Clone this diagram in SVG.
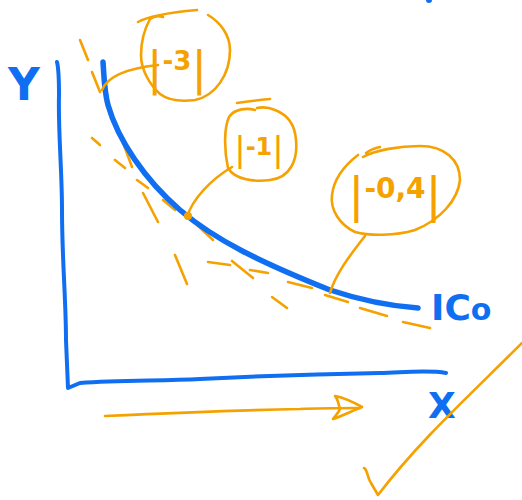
<svg xmlns="http://www.w3.org/2000/svg" width="522" height="500" viewBox="0 0 522 500">
<style>
.b{fill:none;stroke:#0f6ff0;stroke-linecap:round;stroke-linejoin:round}
.o{fill:none;stroke:#f5a100;stroke-width:2.6;stroke-linecap:round;stroke-linejoin:round}
.bt{fill:#0f6ff0;font-family:"DejaVu Sans",sans-serif;font-weight:bold}
.ot{fill:#f5a100;font-family:"DejaVu Sans",sans-serif}
</style>
<rect width="522" height="500" fill="#fff"/>
<g id="axes">
<path class="b" stroke-width="4" d="M57,62 C59,70 59,80 59,95 C58,130 62,170 62,210 C62,260 66,300 66,340 L68,388 L80,383 C120,380 160,381 200,379 C260,376 320,374 380,373 C410,372 430,370 446,373"/>
<text class="bt" x="8" y="100" font-size="44">Y</text>
<text class="bt" x="428" y="418" font-size="36">X</text>
<circle cx="429" cy="0" r="3" fill="#0f6ff0"/>
</g>
<g id="tangents">
<line class="o" x1="80" y1="40" x2="88" y2="60"/>
<line class="o" x1="92" y1="72" x2="100" y2="92"/>
<line class="o" x1="106" y1="102" x2="113" y2="122"/>
<line class="o" x1="122" y1="140" x2="132" y2="167"/>
<line class="o" x1="143" y1="193" x2="158" y2="222"/>
<line class="o" x1="175" y1="255" x2="187" y2="284"/>
<line class="o" x1="92" y1="138" x2="100" y2="145"/>
<line class="o" x1="115" y1="160" x2="125" y2="168"/>
<line class="o" x1="137" y1="180" x2="148" y2="188"/>
<line class="o" x1="163" y1="200" x2="175" y2="210"/>
<line class="o" x1="197" y1="225" x2="213" y2="240"/>
<line class="o" x1="232" y1="261" x2="253" y2="278"/>
<line class="o" x1="272" y1="297" x2="287" y2="308"/>
<line class="o" x1="208" y1="262" x2="230" y2="265"/>
<line class="o" x1="250" y1="270" x2="268" y2="273"/>
<line class="o" x1="288" y1="282" x2="312" y2="288"/>
<line class="o" x1="325" y1="295" x2="348" y2="302"/>
<line class="o" x1="360" y1="308" x2="387" y2="316"/>
<line class="o" x1="403" y1="322" x2="430" y2="328"/>
</g>
<g id="curve">
<path class="b" stroke-width="5.5" d="M103,62 C104,75 104,90 108,105 C118,140 145,180 180,210 C215,240 260,262 330,290 C360,300 390,306 418,308"/>
<text class="bt" x="431" y="320" font-size="36">IC<tspan font-size="30">o</tspan></text>
</g>
<g id="label-3">
<path class="o" d="M138,22 C150,15 175,12 197,10 M208,15 C220,22 230,35 230,50 C230,75 215,96 195,100 C180,102 168,100 160,94 C150,85 141,70 141,55 C141,42 144,30 150,19 C155,15 160,16 163,17"/>
<text class="ot" x="177" y="84" text-anchor="middle"><tspan font-size="46">|</tspan><tspan font-size="26" font-weight="bold" dy="-14">-3</tspan><tspan font-size="46" dy="14">|</tspan></text>
</g>
<g id="label-1">
<path class="o" d="M255,110 C248,108 235,108 229,117 C224,128 224,150 228,168 C235,180 255,182 270,180 C290,178 298,160 296,140 C295,125 288,115 275,110 C268,107 262,107 257,108 M237,103 C250,101 260,100 270,99"/>
<text class="ot" x="259" y="161" text-anchor="middle"><tspan font-size="34">|</tspan><tspan font-size="24" font-weight="bold" dy="-6">-1</tspan><tspan font-size="34" dy="6">|</tspan></text>
</g>
<g id="label-04">
<path class="o" d="M363,157 C375,150 400,146 420,146 C445,146 460,160 460,180 C458,200 440,220 415,230 C395,236 370,236 355,232 C340,225 330,210 332,195 C334,178 345,165 358,155 M366,153 C370,150 375,148 380,147"/>
<text class="ot" x="395" y="212" text-anchor="middle"><tspan font-size="48">|</tspan><tspan font-size="28" font-weight="bold" dy="-14">-0,4</tspan><tspan font-size="48" dy="14">|</tspan></text>
</g>
<g id="connectors">
<path class="o" d="M158,65 C130,68 108,75 102,90"/>
<path class="o" d="M232,167 C210,180 192,200 187,217"/>
<circle cx="188" cy="216" r="4" fill="#f5a100"/>
<path class="o" d="M365,236 C350,255 335,275 330,293"/>
<path class="o" d="M105,416 C170,413 250,410 300,409 C320,408 340,408 360,408"/>
<path class="o" d="M340,409 C338,403 338,399 335,396 C345,398 355,403 362,407 C352,411 342,416 333,419 C336,415 339,412 340,409"/>
<path class="o" stroke-width="4.5" d="M364,468 C368,470 367,478 371,483 L378,495 C420,440 470,395 522,343"/>
</g>
</svg>
